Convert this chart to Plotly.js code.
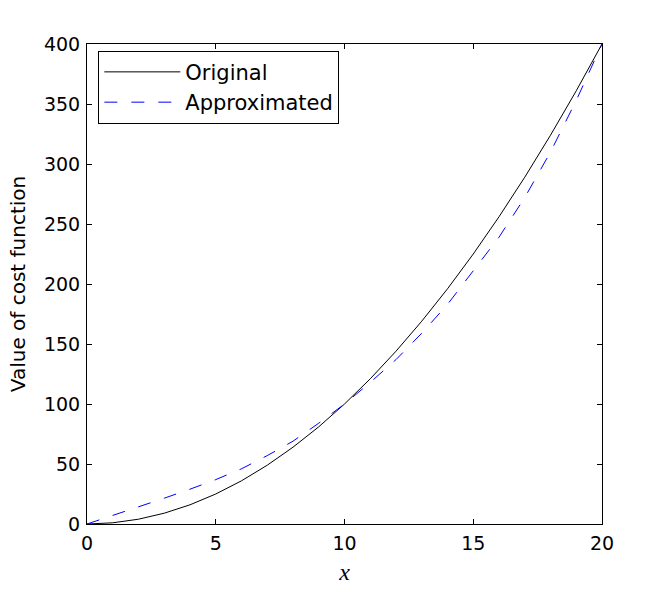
<!DOCTYPE html>
<html>
<head>
<meta charset="utf-8">
<script src="https://cdn.plot.ly/plotly-3.0.1.min.js"></script>
<style>
  html, body { margin: 0; padding: 0; background: #fff; }
  #plot { width: 664px; height: 590px; }
</style>
</head>
<body>
<div id="plot"></div>
<script>
// values
const xs = [0, 1, 2, 3, 4, 5, 6, 7, 8, 9, 10, 11, 12, 13, 14, 15, 16, 17, 18, 19, 20];
const original = [0, 1, 4, 9, 16, 25, 36, 49, 64, 81, 100, 121, 144, 169, 196, 225, 256, 289, 324, 361, 400];
const approximated = [0, 7, 14, 21.5, 29, 37, 46, 57, 69, 84, 100, 118, 137, 159, 183, 211, 239, 272, 310, 353, 400];
const xTicks = [0, 5, 10, 15, 20];
const yTicks = [0, 50, 100, 150, 200, 250, 300, 350, 400];

const font = 'DejaVu Sans, Liberation Sans, Arial, sans-serif';

const data = [{
  type: 'scatter',
  mode: 'lines',
  x: xs,
  y: original,
  name: 'Original',
  line: { color: '#000000', width: 1 }
}, {
  type: 'scatter',
  mode: 'lines',
  x: xs,
  y: approximated,
  name: 'Approximated',
  line: { color: '#0000ff', width: 1, dash: '13px,14px' }
}];

const axisCommon = {
  showline: true,
  linecolor: '#000',
  linewidth: 1,
  mirror: 'ticks',
  ticks: 'inside',
  ticklen: 5,
  tickcolor: '#000',
  ticklabelstandoff: 2,
  showgrid: false,
  zeroline: false,
  tickfont: { family: font, size: 19, color: '#000' }
};

const layout = {
  width: 664,
  height: 590,
  margin: { l: 87, r: 62, t: 44, b: 66 },
  paper_bgcolor: '#fff',
  plot_bgcolor: '#fff',
  showlegend: true,
  legend: {
    x: 0.022,
    y: 0.986,
    xanchor: 'left',
    yanchor: 'top',
    bgcolor: '#fff',
    bordercolor: '#000',
    borderwidth: 1,
    itemwidth: 76,
    font: { family: font, size: 21, color: '#000' }
  },
  xaxis: Object.assign({}, axisCommon, {
    range: [0, 20],
    tickvals: xTicks,
    title: { text: '<i>x</i>', font: { family: 'Liberation Serif, Times New Roman, serif', size: 24, color: '#000' }, standoff: 10 }
  }),
  yaxis: Object.assign({}, axisCommon, {
    range: [0, 400],
    tickvals: yTicks,
    title: { text: 'Value of cost function', font: { family: font, size: 20, color: '#000' }, standoff: 12 }
  })
};

Plotly.newPlot('plot', data, layout, { displayModeBar: false, staticPlot: true });
</script>
</body>
</html>
